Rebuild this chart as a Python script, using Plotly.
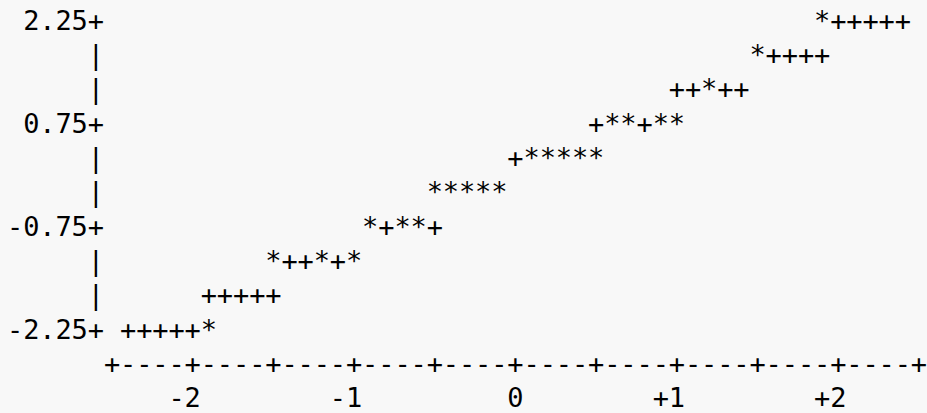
import plotly.graph_objects as go

# ---- data (normal probability plot) ----
# '*' = observed points, '+' = reference (normal) line
star_x = [1.9,
          1.5,
          1.2,
          0.6, 0.7, 0.9, 1.0,
          0.1, 0.2, 0.3, 0.4, 0.5,
          -0.5, -0.4, -0.3, -0.2, -0.1,
          -0.9, -0.7, -0.6,
          -1.5, -1.2, -1.0,
          -1.9]
star_y = [2.25,
          1.75,
          1.25,
          0.75, 0.75, 0.75, 0.75,
          0.25, 0.25, 0.25, 0.25, 0.25,
          -0.25, -0.25, -0.25, -0.25, -0.25,
          -0.75, -0.75, -0.75,
          -1.25, -1.25, -1.25,
          -2.25]

ref_x = [2.0, 2.1, 2.2, 2.3, 2.4,
         1.6, 1.7, 1.8, 1.9,
         1.0, 1.1, 1.3, 1.4,
         0.5, 0.8,
         0.0,
         -0.8, -0.5,
         -1.4, -1.3, -1.1,
         -1.9, -1.8, -1.7, -1.6, -1.5,
         -2.4, -2.3, -2.2, -2.1, -2.0]
ref_y = [2.25, 2.25, 2.25, 2.25, 2.25,
         1.75, 1.75, 1.75, 1.75,
         1.25, 1.25, 1.25, 1.25,
         0.75, 0.75,
         0.25,
         -0.75, -0.75,
         -1.25, -1.25, -1.25,
         -1.75, -1.75, -1.75, -1.75, -1.75,
         -2.25, -2.25, -2.25, -2.25, -2.25]

y_tick_vals = [2.25, 0.75, -0.75, -2.25]
y_tick_text = ["2.25", "0.75", "-0.75", "-2.25"]
y_bar_vals = [1.75, 1.25, 0.25, -0.25, -1.25, -1.75]
x_tick_vals = [-2, -1, 0, 1, 2]
x_tick_text = ["-2", "-1", "0", "+1", "+2"]
title_text = "Normal Probability Plot"

# ---- character grid of the line-printer plot ----
DX = 0.1    # one character column in x units
DY = 0.5    # one text row in y units
X_LO, X_HI = -2.5, 2.5          # horizontal axis extent
Y_AXIS_X = X_LO - DX            # column of the vertical axis
X_AXIS_Y = min(y_tick_vals) - DY
X_LABEL_Y = X_AXIS_Y - DY

dec_x, dec_y, dec_t = [], [], []


def put(text, x_end, y):
    """place a string so that its last character sits at x_end"""
    n = len(text)
    for i, ch in enumerate(text):
        if ch == " ":
            continue
        dec_x.append(round(x_end - (n - 1 - i) * DX, 4))
        dec_y.append(y)
        dec_t.append(ch)


for v, t in zip(y_tick_vals, y_tick_text):
    put(t + "+", Y_AXIS_X, v)
for v in y_bar_vals:
    put("|", Y_AXIS_X, v)

ncol = int(round((X_HI - X_LO) / DX))
axis_line = "".join("+" if i % 5 == 0 else "-" for i in range(ncol + 1))
put(axis_line, X_HI, X_AXIS_Y)
for v, t in zip(x_tick_vals, x_tick_text):
    put(t, v, X_LABEL_Y)

put(title_text, -1.1 + (len(title_text) - 1) * DX, max(y_tick_vals) + DY)

BG = "#f8f8f8"
FONT = dict(family="DejaVu Sans Mono", size=27, color="#000000")

fig = go.Figure()
fig.add_trace(go.Scatter(x=dec_x, y=dec_y, text=dec_t, mode="text",
                         textposition="middle center", textfont=FONT,
                         hoverinfo="skip", cliponaxis=False))
fig.add_trace(go.Scatter(x=ref_x, y=ref_y, text=["+"] * len(ref_x), mode="text",
                         textposition="middle center", textfont=FONT,
                         hoverinfo="skip", cliponaxis=False))
fig.add_trace(go.Scatter(x=star_x, y=star_y, text=["*"] * len(star_x), mode="text",
                         textposition="middle center", textfont=FONT,
                         hoverinfo="skip", cliponaxis=False))

fig.update_layout(
    width=927, height=413,
    margin=dict(l=0, r=0, t=0, b=0),
    paper_bgcolor=BG, plot_bgcolor=BG,
    showlegend=False,
    xaxis=dict(visible=False, range=[-3.194, 2.5496], fixedrange=True),
    yaxis=dict(visible=False, range=[-3.429, 2.585], fixedrange=True),
)
fig.write_html(
    "out.html",
    config={"displayModeBar": False},
    post_script=("document.body.style.margin='0';"
                 "document.body.style.background='" + BG + "';"),
)
